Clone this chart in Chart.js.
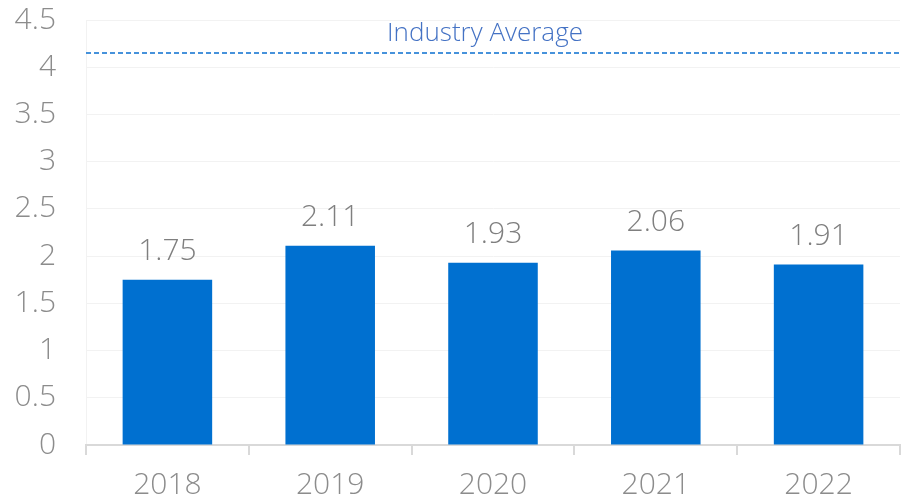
<!DOCTYPE html>
<html>
<head>
<meta charset="utf-8">
<script src="https://cdn.jsdelivr.net/npm/chart.js@4"></script>
<style>
  html, body { margin: 0; padding: 0; background: #fff; }
  #wrap { width: 906px; height: 501px; }
</style>
</head>
<body>
<div id="wrap"><canvas id="myChart"></canvas></div>
<script>
const years = ["2018", "2019", "2020", "2021", "2022"];
const ratios = [1.75, 2.11, 1.93, 2.06, 1.91];
const industryAvg = [4.15];
const avgLabel = ["Industry Average"];

const fontFamily = "'Open Sans', Lato, sans-serif";

// value labels above bars + the dashed industry average line
const overlay = {
  id: "overlay",
  afterDatasetsDraw(chart) {
    const c = chart.ctx;
    const meta = chart.getDatasetMeta(0);
    c.save();
    c.font = "300 30px " + fontFamily;
    c.fillStyle = "#7f7f7f";
    c.textAlign = "center";
    c.textBaseline = "middle";
    meta.data.forEach((bar, i) => {
      c.fillText(ratios[i].toFixed(2), bar.x, bar.y - 28);
    });

    const area = chart.chartArea;
    const y = Math.round(chart.scales.y.getPixelForValue(industryAvg[0]));
    c.strokeStyle = "#0a6fd0";
    c.lineWidth = 1.5;
    c.setLineDash([5, 3]);
    c.beginPath();
    c.moveTo(area.left, y);
    c.lineTo(area.right, y);
    c.stroke();
    c.setLineDash([]);

    c.font = "300 26px " + fontFamily;
    c.fillStyle = "#4472c4";
    c.fillText(avgLabel[0], (area.left + area.right) / 2 - 8, y - 19);
    c.restore();
  }
};

new Chart(document.getElementById("myChart"), {
  type: "bar",
  data: {
    labels: years,
    datasets: [{
      data: ratios,
      backgroundColor: "#0070d0",
      barPercentage: 0.55,
      categoryPercentage: 1
    }]
  },
  options: {
    responsive: true,
    maintainAspectRatio: false,
    animation: false,
    layout: { padding: { top: 20, right: 6, left: 0, bottom: 0 } },
    plugins: {
      legend: { display: false },
      tooltip: { enabled: false }
    },
    scales: {
      y: {
        min: 0,
        max: 4.5,
        ticks: {
          stepSize: 0.5,
          padding: 30,
          color: "#8c8c8c",
          font: { family: fontFamily, size: 30, weight: 300 },
          callback: (v) => String(v)
        },
        grid: { color: "#f2f2f2", drawTicks: false },
        border: { color: "#f2f2f2" },
        afterFit(scale) {
          scale.width = 86;
          scale.paddingTop = 0;
          scale.paddingBottom = 0;
        }
      },
      x: {
        ticks: {
          padding: 12,
          color: "#8c8c8c",
          font: { family: fontFamily, size: 30, weight: 300 }
        },
        grid: { drawOnChartArea: false, drawTicks: true, tickLength: 10, color: "#d9d9d9", lineWidth: 2 },
        border: { color: "#d9d9d9", width: 2 },
        afterFit(scale) { scale.height = 56; }
      }
    }
  },
  plugins: [overlay]
});
</script>
</body>
</html>
